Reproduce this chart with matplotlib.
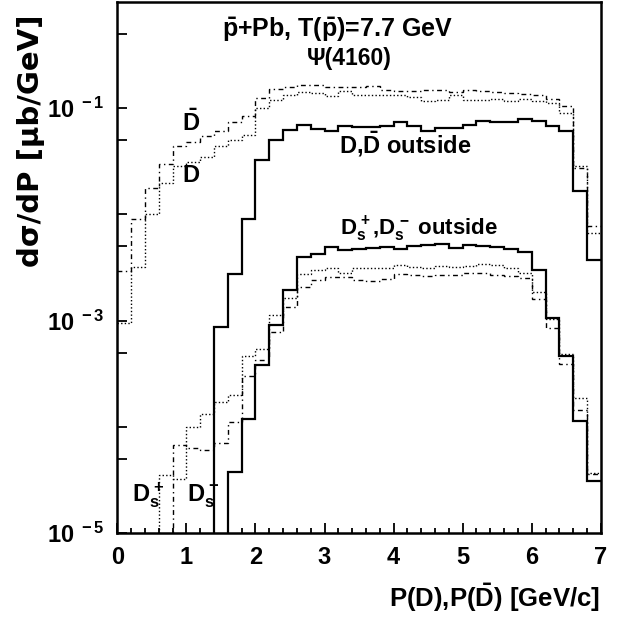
import numpy as np
import matplotlib
matplotlib.use('Agg')
import matplotlib.pyplot as plt
from matplotlib.ticker import FixedLocator

plt.rcParams['font.family'] = ['Liberation Sans', 'DejaVu Sans']
plt.rcParams['font.weight'] = 'bold'
plt.rcParams['mathtext.fontset'] = 'custom'
plt.rcParams['mathtext.rm'] = 'Liberation Sans:bold'
plt.rcParams['mathtext.it'] = 'Liberation Sans:bold'
plt.rcParams['mathtext.bf'] = 'Liberation Sans:bold'

# 35 momentum bins of 0.2 GeV/c from 0 to 7
edges = np.round(np.arange(36) * 0.2, 1)

# D-bar (dash-dot), D (dotted), D,D-bar outside (solid)
dbar = [2.95e-3, 9.06e-3, 1.77e-2, 3.00e-2, 4.44e-2, 4.86e-2, 5.51e-2, 6.05e-2, 7.35e-2, 8.38e-2,
        0.125, 0.152, 0.160, 0.165, 0.164, 0.160, 0.160, 0.160, 0.163, 0.149,
        0.144, 0.144, 0.147, 0.147, 0.142, 0.149, 0.146, 0.141, 0.139, 0.136,
        0.134, 0.122, 0.104, 2.73e-2, 7.71e-3]
d = [9.55e-4, 3.24e-3, 1.02e-2, 1.98e-2, 2.83e-2, 3.15e-2, 3.44e-2, 4.44e-2, 5.05e-2, 5.62e-2,
     0.100, 0.120, 0.134, 0.142, 0.139, 0.131, 0.144, 0.134, 0.132, 0.132,
     0.134, 0.127, 0.116, 0.120, 0.134, 0.120, 0.120, 0.122, 0.116, 0.122,
     0.116, 0.111, 9.0e-2, 2.83e-2, 6.68e-3]
dd_out = [0, 0, 0, 0, 0, 0, 0, 8.67e-4, 2.77e-3, 9.06e-3,
          3.27e-2, 5.05e-2, 6.18e-2, 7.00e-2, 6.34e-2, 6.05e-2, 6.84e-2, 6.70e-2, 6.70e-2, 6.84e-2,
          7.35e-2, 6.84e-2, 6.14e-2, 6.52e-2, 6.52e-2, 7.00e-2, 7.52e-2, 7.35e-2, 7.35e-2, 7.96e-2,
          7.52e-2, 6.84e-2, 6.14e-2, 1.67e-2, 3.74e-3]

# Ds+ (dotted), Ds- (dash-dot), Ds+,Ds- outside (solid)
ds_plus = [0, 0, 0, 3.56e-5, 3.22e-5, 1.01e-4, 1.33e-4, 1.72e-4, 2.02e-4, 4.70e-4,
           5.46e-4, 1.13e-3, 1.62e-3, 2.77e-3, 2.99e-3, 3.15e-3, 2.84e-3, 3.14e-3, 3.14e-3, 3.17e-3,
           3.36e-3, 3.24e-3, 3.14e-3, 3.29e-3, 3.20e-3, 3.31e-3, 3.41e-3, 3.36e-3, 3.14e-3, 2.84e-3,
           1.88e-3, 1.04e-3, 4.88e-4, 1.87e-4, 3.72e-5]
ds_minus = [0, 0, 0, 0, 6.78e-5, 6.39e-5, 6.08e-5, 7.13e-5, 1.11e-4, 3.03e-4,
            4.29e-4, 7.82e-4, 1.34e-3, 2.08e-3, 2.43e-3, 2.56e-3, 2.57e-3, 2.43e-3, 2.39e-3, 2.47e-3,
            2.77e-3, 2.70e-3, 2.65e-3, 2.70e-3, 2.70e-3, 2.81e-3, 2.84e-3, 2.70e-3, 2.65e-3, 2.52e-3,
            1.60e-3, 8.51e-4, 3.93e-4, 1.45e-4, 3.61e-5]
ds_out = [0, 0, 0, 0, 0, 0, 0, 0, 3.80e-5, 1.18e-4,
          3.85e-4, 9.14e-4, 1.95e-3, 3.97e-3, 4.27e-3, 4.93e-3, 4.66e-3, 4.72e-3, 4.83e-3, 4.93e-3,
          4.72e-3, 5.07e-3, 5.11e-3, 5.30e-3, 4.83e-3, 5.19e-3, 5.07e-3, 4.93e-3, 4.75e-3, 4.39e-3,
          3.01e-3, 1.06e-3, 4.67e-4, 1.15e-4, 3.13e-5]

DOT = (0, (1, 1.6))
DASHDOT = (0, (3.5, 2.5, 1, 2.5))

fig = plt.figure(figsize=(6.32, 6.19), dpi=100)
ax = fig.add_axes([0.1856, 0.1385, 0.765, 0.8583])


def hist(vals, ls, lw):
    v = np.array(vals, dtype=float)
    v[v <= 0] = 1e-9  # empty bins drop below the frame
    ax.stairs(v, edges, baseline=None, color='black', linestyle=ls, linewidth=lw)


hist(dbar, DASHDOT, 1.0)
hist(d, DOT, 1.0)
hist(ds_minus, DASHDOT, 1.0)
hist(ds_plus, DOT, 1.0)
hist(dd_out, '-', 1.6)
hist(ds_out, '-', 1.6)

ax.set_xlim(0, 7)
ax.set_yscale('log')
ax.set_ylim(1e-5, 1)

ax.xaxis.set_major_locator(FixedLocator(range(8)))
ax.xaxis.set_minor_locator(FixedLocator(np.round(np.arange(36) * 0.2, 1)))
ax.set_xticklabels([str(i) for i in range(8)])
ax.yaxis.set_major_locator(FixedLocator([1e-5, 1e-4, 1e-3, 1e-2, 1e-1]))
ax.yaxis.set_minor_locator(FixedLocator([5e-5, 5e-4, 5e-3, 5e-2, 5e-1]))
ax.set_yticklabels([r'10$^{\ -5}$', '', r'10$^{\ -3}$', '', r'10$^{\ -1}$'])

ax.tick_params(which='both', direction='in', top=False, right=False, width=1.3, labelsize=17)
ax.tick_params(axis='x', which='major', length=7, pad=9)
ax.tick_params(axis='x', which='minor', length=3.5)
ax.tick_params(axis='y', which='both', length=7, pad=9)
for s in ax.spines.values():
    s.set_linewidth(1.8)

ax.text(1.51, 0.471, r'$\bar{p}$+Pb, T($\bar{p}$)=7.7 GeV', fontsize=18, ha='left', va='baseline')
ax.text(2.74, 0.255, 'Ψ(4160)', fontsize=16.5, ha='left', va='baseline')
ax.text(0.93, 0.0615, r'$\bar{D}$', fontsize=17, ha='left', va='baseline')
ax.text(0.947, 0.0204, 'D', fontsize=17, ha='left', va='baseline')
ax.text(3.21, 0.0372, r'D,$\bar{D}$ outside', fontsize=17, ha='left', va='baseline')
ax.text(3.22, 6.41e-3, r'$D_s^+$,$D_s^-$ outside', fontsize=16, ha='left', va='baseline')
ax.text(0.21, 1.98e-5, r'$D_s^+$', fontsize=17, ha='left', va='baseline')
ax.text(1.01, 1.98e-5, r'$D_s^-$', fontsize=17, ha='left', va='baseline')

fig.text(0.949, 0.034, r'P(D),P($\bar{D}$) [GeV/c]', fontsize=18.5, ha='right', va='center')
fig.text(0.049, 0.976, 'dσ/dP [μb/GeV]', fontsize=21, ha='center', va='top', rotation=90,
         family=['DejaVu Sans'])

fig.savefig('out.png', dpi=100)
